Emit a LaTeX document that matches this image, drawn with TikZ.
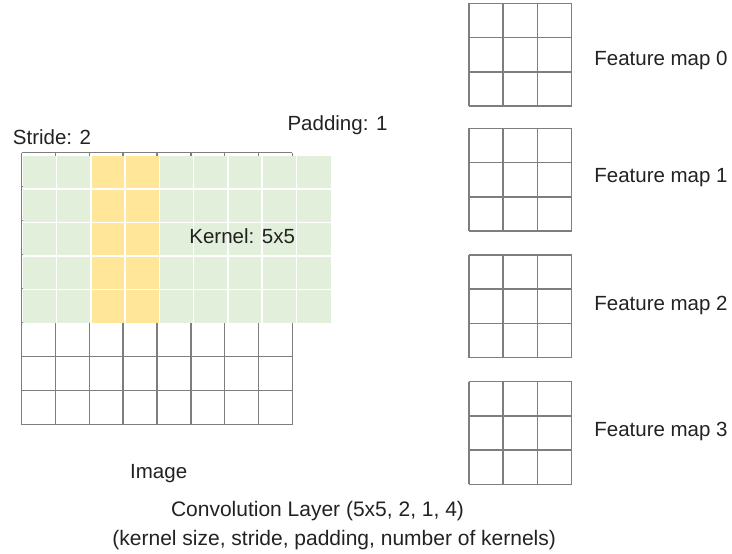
\documentclass[tikz,border=0pt]{standalone}
\usepackage{fontspec}
\setmainfont{Liberation Sans}
\definecolor{gridgray}{HTML}{7E7E7E}
\definecolor{padgreen}{HTML}{E2EFDA}
\definecolor{kernyellow}{HTML}{FFE699}
\definecolor{labeltext}{HTML}{222222}
\begin{document}
\begin{tikzpicture}[x=1pt,y=-1pt,
  gridline/.style={draw=gridgray,line width=1.5pt},
  cellgap/.style={draw=white,line width=1.5pt},
  lbl/.style={inner sep=0pt,anchor=base,text=labeltext,
              font=\fontsize{20.5}{24}\selectfont},
  caption/.style={lbl,font=\fontsize{21}{24}\selectfont}]
\useasboundingbox (0,0) rectangle (732,554);

% input image: 8 x 8 cells
\foreach \i in {0,...,8} {
  \draw[gridline] ({21.7+\i*33.83},152.7) -- ({21.7+\i*33.83},424.7);
  \draw[gridline] (21.7,{152.7+\i*34}) -- (292.3,{152.7+\i*34});
}

% padded rows swept by the kernel (9 x 5), current stride step in yellow
\fill[padgreen] (22.5,155.5) rectangle (330.5,323.3);
\fill[kernyellow] (90.9,155.5) rectangle (159.3,323.3);
\foreach \i in {1,...,8}
  \draw[cellgap] ({22.5+\i*34.22},155.5) -- ({22.5+\i*34.22},323.3);
\foreach \j in {1,...,4}
  \draw[cellgap] (22.5,{155.5+\j*33.56}) -- (330.5,{155.5+\j*33.56});

% four 3 x 3 feature maps
\foreach \k/\top/\base in {0/3.3/65, 1/128.3/182.7, 2/255/310, 3/381.7/436.7} {
  \foreach \i in {0,...,3} {
    \draw[gridline] ({469+\i*34.23},\top) -- ({469+\i*34.23},{\top+102.7});
    \draw[gridline] (469,{\top+\i*34.23}) -- (571.7,{\top+\i*34.23});
  }
  \node[lbl] (fm\k) at (661,\base) {Feature map \k};
}

% labels
\node[lbl] (stride)   at (52,144)      {Stride: 2};
\node[lbl] (padding)  at (337.5,130)   {Padding: 1};
\node[lbl] (kernel)   at (242.2,243.2) {Kernel: 5x5};
\node[lbl] (image)    at (158.7,478.5) {Image};
\node[caption] (conv)     at (317.5,516.5) {Convolution Layer (5x5, 2, 1, 4)};
\node[caption] (convargs) at (334.2,545)   {(kernel size, stride, padding, number of kernels)};
\end{tikzpicture}
\end{document}
